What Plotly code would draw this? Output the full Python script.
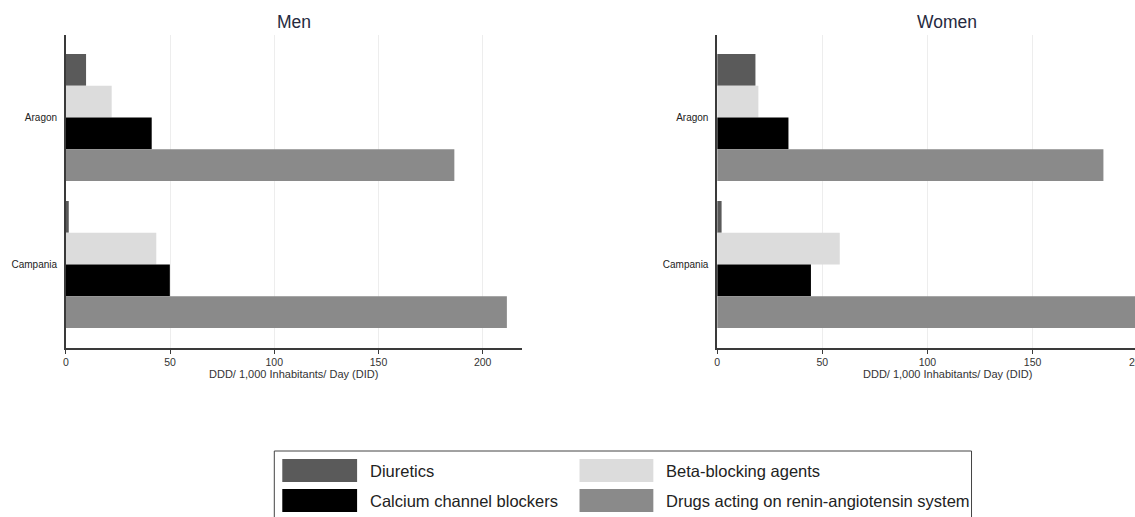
import plotly.graph_objects as go

# ---- data -------------------------------------------------------------
regions = ["Aragon", "Campania"]
drug_classes = [
    "Diuretics",
    "Beta-blocking agents",
    "Calcium channel blockers",
    "Drugs acting on renin-angiotensin system",
]

men_diuretics = [9.7, 1.4]
men_beta_blockers = [22.0, 43.4]
men_calcium_blockers = [41.2, 49.9]
men_ras_drugs = [186.4, 211.6]

women_diuretics = [18.2, 2.1]
women_beta_blockers = [19.6, 58.3]
women_calcium_blockers = [33.9, 44.6]
women_ras_drugs = [183.7, 205.0]

x_ticks = [0, 50, 100, 150, 200]
panel_titles = ["Men", "Women"]
x_title = "DDD/ 1,000 Inhabitants/ Day (DID)"

# ---- styling ----------------------------------------------------------
W, H = 1177, 517
FONT = "Liberation Sans, Arial, sans-serif"
bar_colors = ["#5a5a5a", "#dcdcdc", "#000000", "#8a8a8a"]
axis_color = "#3a3a3a"


def fx(px):
    return px / W


def fy(py):
    return 1 - py / H


panels = [
    ("x", "y", [men_diuretics, men_beta_blockers, men_calcium_blockers, men_ras_drugs]),
    ("x2", "y2", [women_diuretics, women_beta_blockers, women_calcium_blockers, women_ras_drugs]),
]

fig = go.Figure()
for xa, ya, series in panels:
    for name, values, color in zip(drug_classes, series, bar_colors):
        fig.add_trace(go.Bar(
            y=regions, x=values, name=name, orientation="h",
            marker=dict(color=color, line=dict(width=0)),
            xaxis=xa, yaxis=ya, showlegend=False,
        ))

x_domains = [[fx(63), fx(520)], [fx(716), 1.0]]
y_domain = [fy(348), fy(35)]

common_x = dict(
    range=[0, 218.7], tickvals=x_ticks, showgrid=True, gridcolor="#ededed",
    gridwidth=1, zeroline=False, showline=True, linecolor=axis_color,
    linewidth=1.5, ticks="outside", ticklen=4, tickcolor=axis_color,
    tickfont=dict(family=FONT, size=10.5, color="#333333"),
)
common_y = dict(
    domain=y_domain, type="category", categoryorder="array",
    categoryarray=regions, range=[1.568, -0.561], showgrid=False,
    zeroline=False, showline=True, linecolor=axis_color, linewidth=1.5,
    ticks="", ticklabelstandoff=5,
    tickfont=dict(family=FONT, size=10, color="#222222"),
)

annotations = []
for dom, title in zip(x_domains, panel_titles):
    mid = (dom[0] + dom[1]) / 2
    annotations.append(dict(
        text=title, x=mid, y=fy(22), xref="paper", yref="paper",
        xanchor="center", yanchor="middle", showarrow=False,
        font=dict(family=FONT, size=17.5, color="#262a40"),
    ))
    annotations.append(dict(
        text=x_title, x=mid, y=fy(374), xref="paper", yref="paper",
        xanchor="center", yanchor="middle", showarrow=False,
        font=dict(family=FONT, size=11, color="#333333"),
    ))

# legend drawn as a boxed 2x2 key
shapes = [dict(
    type="rect", xref="paper", yref="paper",
    x0=fx(272), x1=fx(971), y0=fy(451), y1=fy(540),
    line=dict(color="#444444", width=1), fillcolor="rgba(0,0,0,0)",
)]
col_swatch = [(280, 355), (578, 652)]
col_text = [366, 663]
row_top = [459, 489]
swatch_h = 23
for i, (name, color) in enumerate(zip(drug_classes, bar_colors)):
    r, c = divmod(i, 2)
    shapes.append(dict(
        type="rect", xref="paper", yref="paper",
        x0=fx(col_swatch[c][0]), x1=fx(col_swatch[c][1]),
        y0=fy(row_top[r] + swatch_h), y1=fy(row_top[r]),
        line=dict(width=0), fillcolor=color,
    ))
    annotations.append(dict(
        text=name, x=fx(col_text[c]), y=fy(row_top[r] + swatch_h / 2),
        xref="paper", yref="paper", xanchor="left", yanchor="middle",
        showarrow=False, font=dict(family=FONT, size=16.5, color="#222222"),
    ))

fig.update_layout(
    width=W, height=H,
    margin=dict(l=0, r=0, t=0, b=0),
    paper_bgcolor="white", plot_bgcolor="white",
    barmode="group", bargap=0.136, bargroupgap=0,
    xaxis=dict(domain=x_domains[0], anchor="y", **common_x),
    xaxis2=dict(domain=x_domains[1], anchor="y2", **common_x),
    yaxis=dict(anchor="x", **common_y),
    yaxis2=dict(anchor="x2", **common_y),
    annotations=annotations, shapes=shapes,
    font=dict(family=FONT),
)

fig.write_html(
    "out.html",
    config={"displayModeBar": False},
    post_script=(
        "document.documentElement.style.overflow='hidden';"
        "document.body.style.overflow='hidden';"
        "document.body.style.margin='0';"
    ),
)
